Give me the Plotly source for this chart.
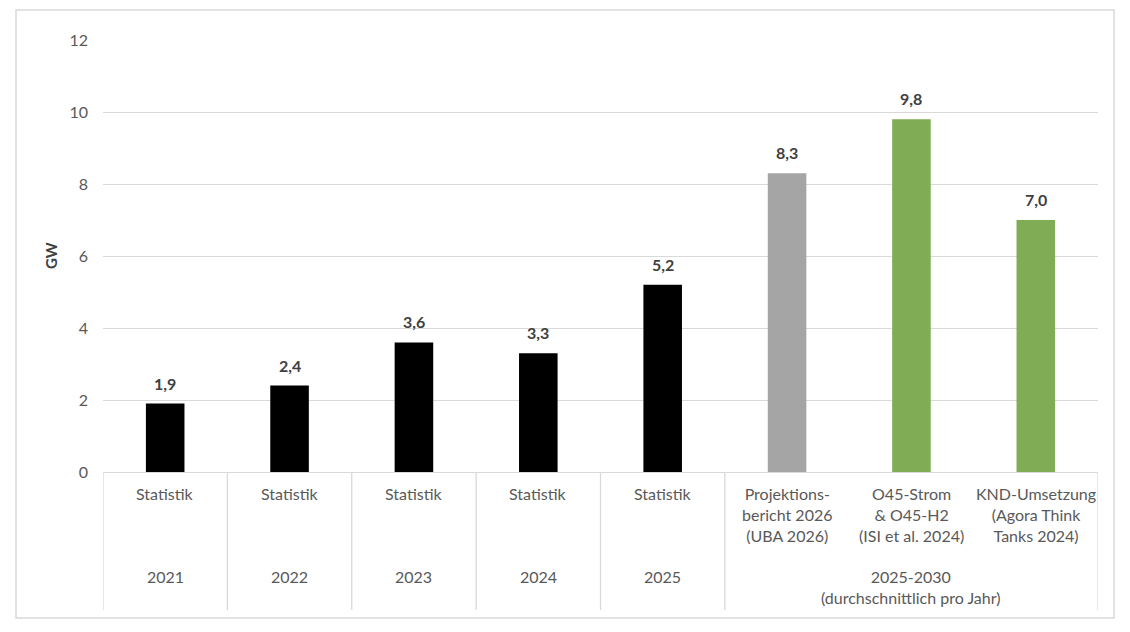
import plotly.graph_objects as go

# ---- data ----
years = ["2021", "2022", "2023", "2024", "2025", "2025-2030", "2025-2030", "2025-2030"]
sources = ["Statistik", "Statistik", "Statistik", "Statistik", "Statistik",
           "Projektions-<br>bericht 2026<br>(UBA 2026)",
           "O45-Strom<br>& O45-H2<br>(ISI et al. 2024)",
           "KND-Umsetzung<br>(Agora Think<br>Tanks 2024)"]
values = [1.9, 2.4, 3.6, 3.3, 5.2, 8.3, 9.8, 7.0]
kinds = ["Statistik"] * 5 + ["Projektion", "Szenario", "Szenario"]
group_labels = ["2021", "2022", "2023", "2024", "2025", "2025-2030<br>(durchschnittlich pro Jahr)"]
y_ticks = [0, 2, 4, 6, 8, 10, 12]

# ---- styles ----
color_map = {"Statistik": "#000000", "Projektion": "#A5A5A5", "Szenario": "#7FAC55"}
FONT = "Lato, 'Open Sans', sans-serif"
GRID = "#D9D9D9"
TXT = "#595959"

OFF = 8  # page body margin
W, H = 1130 - OFF, 632 - OFF
L, T = 103 - OFF, 40 - OFF
PW, PH = 995, 432
R, B = W - L - PW, H - T - PH

def px_x(p):
    return (p - OFF - L) / PW

def px_y(p):
    return (T + PH - (p - OFF)) / PH

cat_ids = [f"{y}|{i}" for i, y in enumerate(years)]

fig = go.Figure()
fig.add_trace(go.Bar(
    x=cat_ids, y=values,
    marker=dict(color=[color_map[k] for k in kinds], line=dict(width=0)),
    width=0.31, hoverinfo="skip",
))

annotations = []
# data labels
for cid, v in zip(cat_ids, values):
    annotations.append(dict(
        x=cid, y=v, xref="x", yref="y", text=f"{v:.1f}".replace(".", ","),
        showarrow=False, yanchor="bottom", yshift=9,
        font=dict(family=FONT, size=16, color="#404040", weight="bold"),
    ))
# inner category labels
for i, s in enumerate(sources):
    annotations.append(dict(
        x=i, y=px_y(482), xref="x", yref="paper", text=s, showarrow=False,
        yanchor="top", xanchor="center", align="center",
        font=dict(family=FONT, size=16, color=TXT),
    ))
# group labels
group_pos = [0, 1, 2, 3, 4, 6]
for gx, g in zip(group_pos, group_labels):
    annotations.append(dict(
        x=gx, y=px_y(565), xref="x", yref="paper", text=g, showarrow=False,
        yanchor="top", xanchor="center", align="center",
        font=dict(family=FONT, size=16, color=TXT),
    ))
# y axis title
annotations.append(dict(
    x=px_x(40), y=px_y(256), xref="paper", yref="paper", text="GW", textangle=-90,
    showarrow=False, font=dict(family=FONT, size=15, color="#404040", weight="bold"),
))

shapes = []
# table vertical lines at group boundaries
for bx in [-0.5, 0.5, 1.5, 2.5, 3.5, 4.5, 7.5]:
    shapes.append(dict(type="line", xref="x", yref="paper", x0=bx, x1=bx,
                       y0=0, y1=px_y(610), line=dict(color=GRID, width=1.3)))
# outer border
shapes.append(dict(type="rect", xref="paper", yref="paper",
                   x0=px_x(16), x1=px_x(1114), y0=px_y(618), y1=px_y(10),
                   line=dict(color=GRID, width=1.5), fillcolor="rgba(0,0,0,0)", layer="below"))

fig.update_layout(
    width=W, height=H,
    margin=dict(l=L, r=R, t=T, b=B),
    paper_bgcolor="white", plot_bgcolor="white",
    showlegend=False,
    annotations=annotations, shapes=shapes,
    font=dict(family=FONT, size=16, color=TXT),
    xaxis=dict(type="category", categoryorder="array", categoryarray=cat_ids,
               range=[-0.5, 7.5], showticklabels=False, showgrid=False,
               showline=True, linecolor=GRID, linewidth=1.3, ticks="", zeroline=False),
    yaxis=dict(range=[0, 12], tickvals=y_ticks, ticktext=[str(t) for t in y_ticks],
               showgrid=True, gridcolor=GRID, gridwidth=1.3, zeroline=False,
               showline=False, ticks="", ticklabelstandoff=14,
               tickfont=dict(family=FONT, size=16, color=TXT)),
)

fig.write_html("out.html")
